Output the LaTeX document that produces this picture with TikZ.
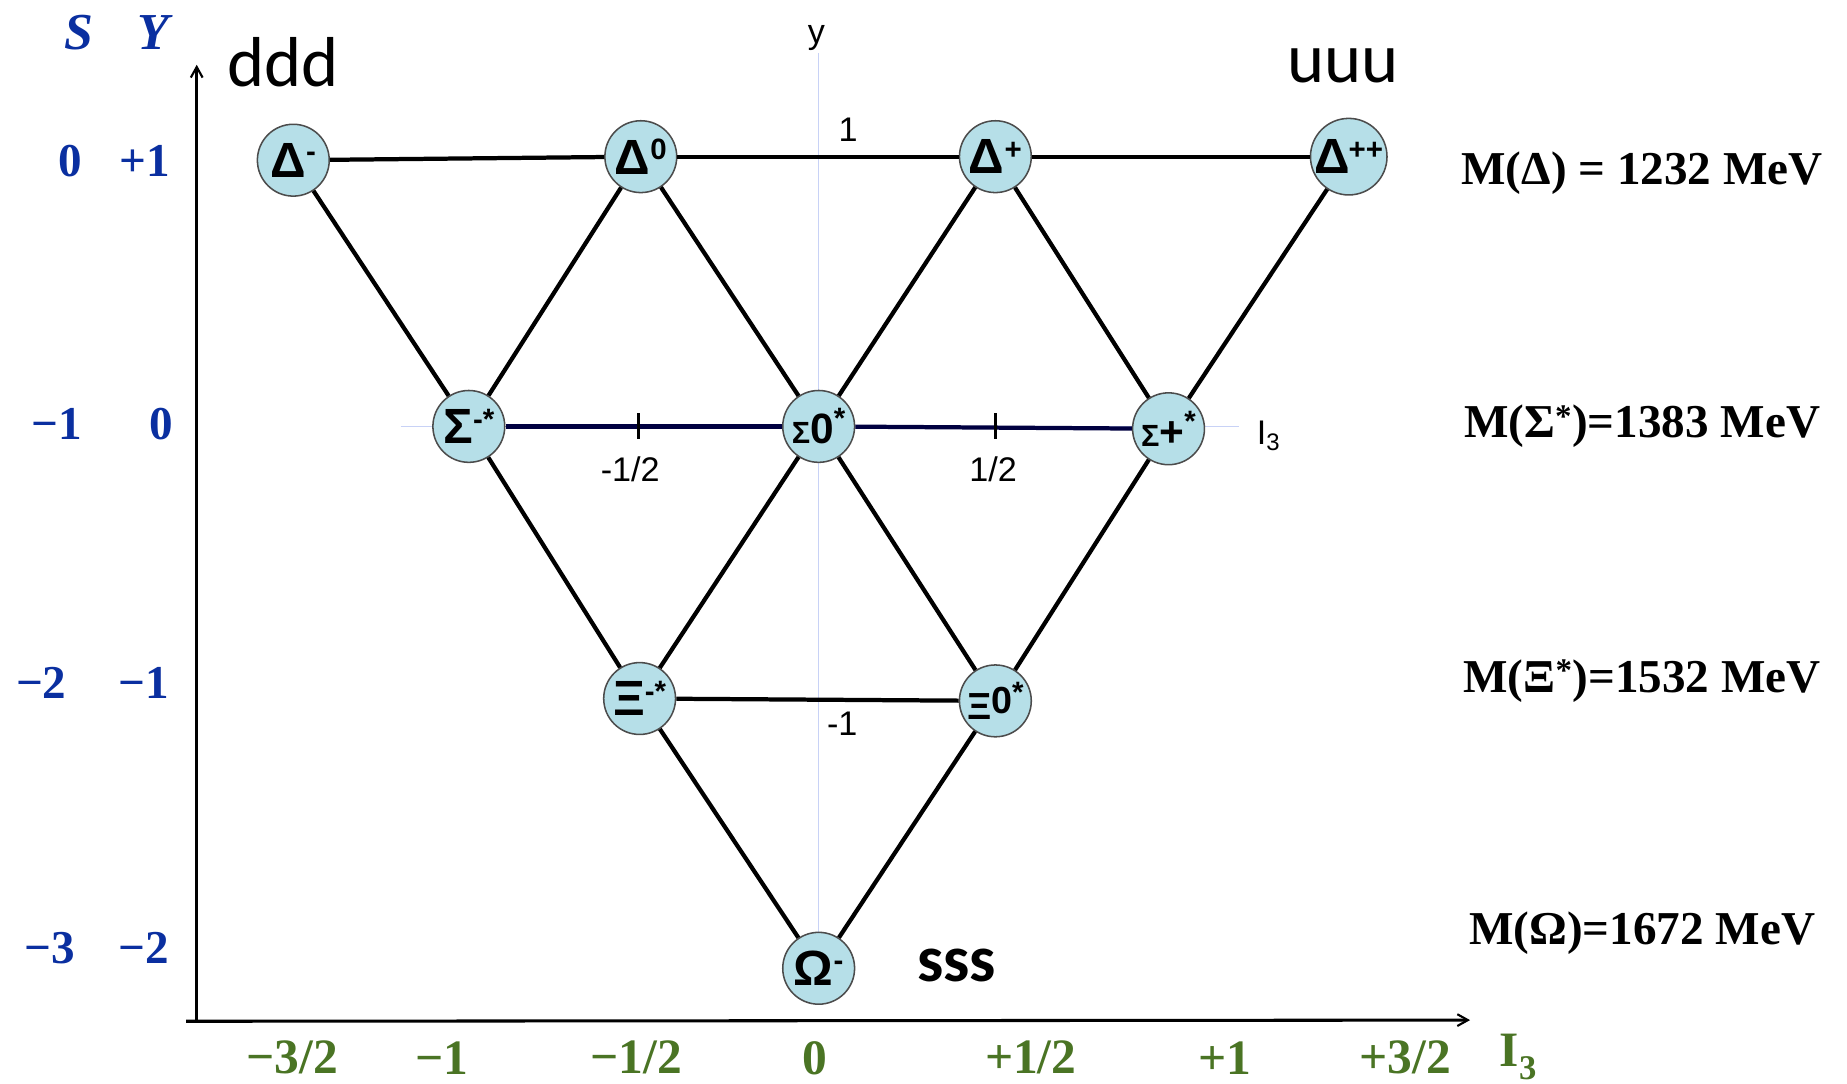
\documentclass[tikz,border=0pt]{standalone}
\usepackage{fontspec}
\setmainfont{Liberation Serif}
\newfontfamily\lsans{Liberation Sans}
\newfontfamily\carl{Carlito}
\usetikzlibrary{arrows.meta}
\definecolor{partfill}{HTML}{B6DFE8}
\definecolor{sblue}{HTML}{0A2FA0}
\definecolor{igreen}{HTML}{4A7424}
\definecolor{faint}{HTML}{C8D2F6}
\newcommand{\fsz}[1]{\fontsize{#1}{#1}\selectfont}
\newcommand{\psup}[2]{\raisebox{#1}{\fsz{25}#2}}
\begin{document}
\begin{tikzpicture}[x=1pt,y=-1pt,
  particle/.style={circle, draw=black!70, line width=1.3pt, fill=partfill, minimum size=61pt, inner sep=0pt,
    font=\lsans\bfseries\fsz{42}},
  link/.style={line width=3.6pt, black},
  axisline/.style={line width=2.6pt, black, -{Straight Barb[length=9pt,width=10pt,line width=1.8pt]}},
  faintline/.style={line width=0.7pt, draw=faint},
  lab/.style={font=\lsans\fsz{29}, inner sep=0pt},
  quark/.style={font=\carl\fsz{60}, inner sep=0pt},
  qnum/.style={font=\bfseries\fsz{40}, text=sblue, inner sep=0pt},
  qname/.style={font=\bfseries\itshape\fsz{44}, text=sblue, inner sep=0pt},
  mass/.style={font=\bfseries\fsz{40}, inner sep=0pt},
  ival/.style={font=\bfseries\fsz{42}, text=igreen, inner sep=0pt}
]
\useasboundingbox (0,0) rectangle (1568,920);

% faint internal axes
\coordinate (yt) at (695,45);
\coordinate (yb) at (695,852);
\coordinate (il) at (340,362);
\coordinate (ir) at (1052,362);
\draw[faintline] (yb) -- (yt);
\draw[faintline] (il) -- (ir);

% main axes
\coordinate (origin) at (167,867);
\coordinate (ytop) at (167,55);
\coordinate (xleft) at (158,867);
\coordinate (xright) at (1248,866);
\draw[axisline] (origin) -- (ytop);
\draw[axisline] (xleft) -- (xright);

% particles
\node[particle] (dm)  at (249,136) {Δ\psup{13pt}{-}};
\node[particle] (d0)  at (544,133) {Δ\psup{12pt}{0}};
\node[particle] (dp)  at (845,133) {Δ\psup{12pt}{+}};
\node[particle] (dpp) at (1145,133) {Δ\kern-1pt\psup{12pt}{++}};
\node[particle] (sm)  at (398,362) {Σ\psup{12pt}{-*}};
\node[particle] (s0)  at (695,362) {{\fsz{26}Σ}{\fsz{36}0}\psup{13pt}{*}};
\node[particle] (sp)  at (992,364) {{\fsz{26}Σ}{\fsz{36}+}\psup{13pt}{*}};
\node[particle] (xm)  at (543,593) {Ξ\psup{12pt}{-*}};
\node[particle] (x0)  at (845,595) {{\fsz{32}Ξ}\raisebox{5pt}{\fsz{32}0}\psup{15pt}{*}};
\node[particle] (om)  at (695,822) {Ω\psup{13pt}{-}};

% connectors
\draw[link] (dm) -- (d0);
\draw[link] (d0) -- (dp);
\draw[link] (dp) -- (dpp);
\draw[link] (dm) -- (sm);
\draw[link] (d0) -- (sm);
\draw[link] (d0) -- (s0);
\draw[link] (dp) -- (s0);
\draw[link] (dp) -- (sp);
\draw[link] (dpp) -- (sp);
\draw[link, draw=blue!25!black] (sm) -- (s0);
\draw[link, draw=blue!25!black] (s0) -- (sp);
\draw[link] (sm) -- (xm);
\draw[link] (s0) -- (xm);
\draw[link] (s0) -- (x0);
\draw[link] (sp) -- (x0);
\draw[link] (xm) -- (x0);
\draw[link] (xm) -- (om);
\draw[link] (x0) -- (om);

% ticks
\coordinate (t1a) at (542,351); \coordinate (t1b) at (542,373);
\coordinate (t2a) at (845,351); \coordinate (t2b) at (845,373);
\draw[line width=2.6pt] (t1a) -- (t1b);
\draw[line width=2.6pt] (t2a) -- (t2b);

% axis labels
\node[lab] (ly) at (693,32) {y};
\node[lab] (l1) at (720,110) {1};
\node[lab] (lmh) at (535,398) {-1/2};
\node[lab] (lph) at (843,398) {1/2};
\node[lab] (li3) at (1077,370) {I\textsubscript{3}};
\node[lab] (lm1) at (715,614) {-1};

% quark content
\node[quark] (ddd) at (240,53) {ddd};
\node[quark] (uuu) at (1140,56) {uuu};
\node[quark, font=\carl\bfseries\fsz{56}] (sss) at (812,820) {sss};

% left quantum numbers
\node[qname] (hS) at (67,28) {S};
\node[qname] (hY) at (130,28) {Y};
\node[qnum] (s1) at (60,137) {0};
\node[qnum] (y1) at (123,137) {+1};
\node[qnum] (s2) at (48,360) {−1};
\node[qnum] (y2) at (137,360) {0};
\node[qnum] (s3) at (35,580) {−2};
\node[qnum] (y3) at (122,580) {−1};
\node[qnum] (s4) at (42,805) {−3};
\node[qnum] (y4) at (122,805) {−2};

% masses
\node[mass] (m1) at (1394,147) {M(Δ) = 1232 MeV};
\node[mass] (m2) at (1394,362) {M(Σ\textsuperscript{*})=1383 MeV};
\node[mass] (m3) at (1394,578) {M(Ξ\textsuperscript{*})=1532 MeV};
\node[mass] (m4) at (1394,792) {M(Ω)=1672 MeV};

% I3 values
\node[ival] (i1) at (248,898) {−3/2};
\node[ival] (i2) at (375,898) {−1};
\node[ival] (i3) at (540,898) {−1/2};
\node[ival] (i4) at (692,898) {0};
\node[ival] (i5) at (875,898) {+1/2};
\node[ival] (i6) at (1040,898) {+1};
\node[ival] (i7) at (1193,898) {+3/2};
\node[ival] (i8) at (1289,897) {I\textsubscript{3}};
\end{tikzpicture}
\end{document}
